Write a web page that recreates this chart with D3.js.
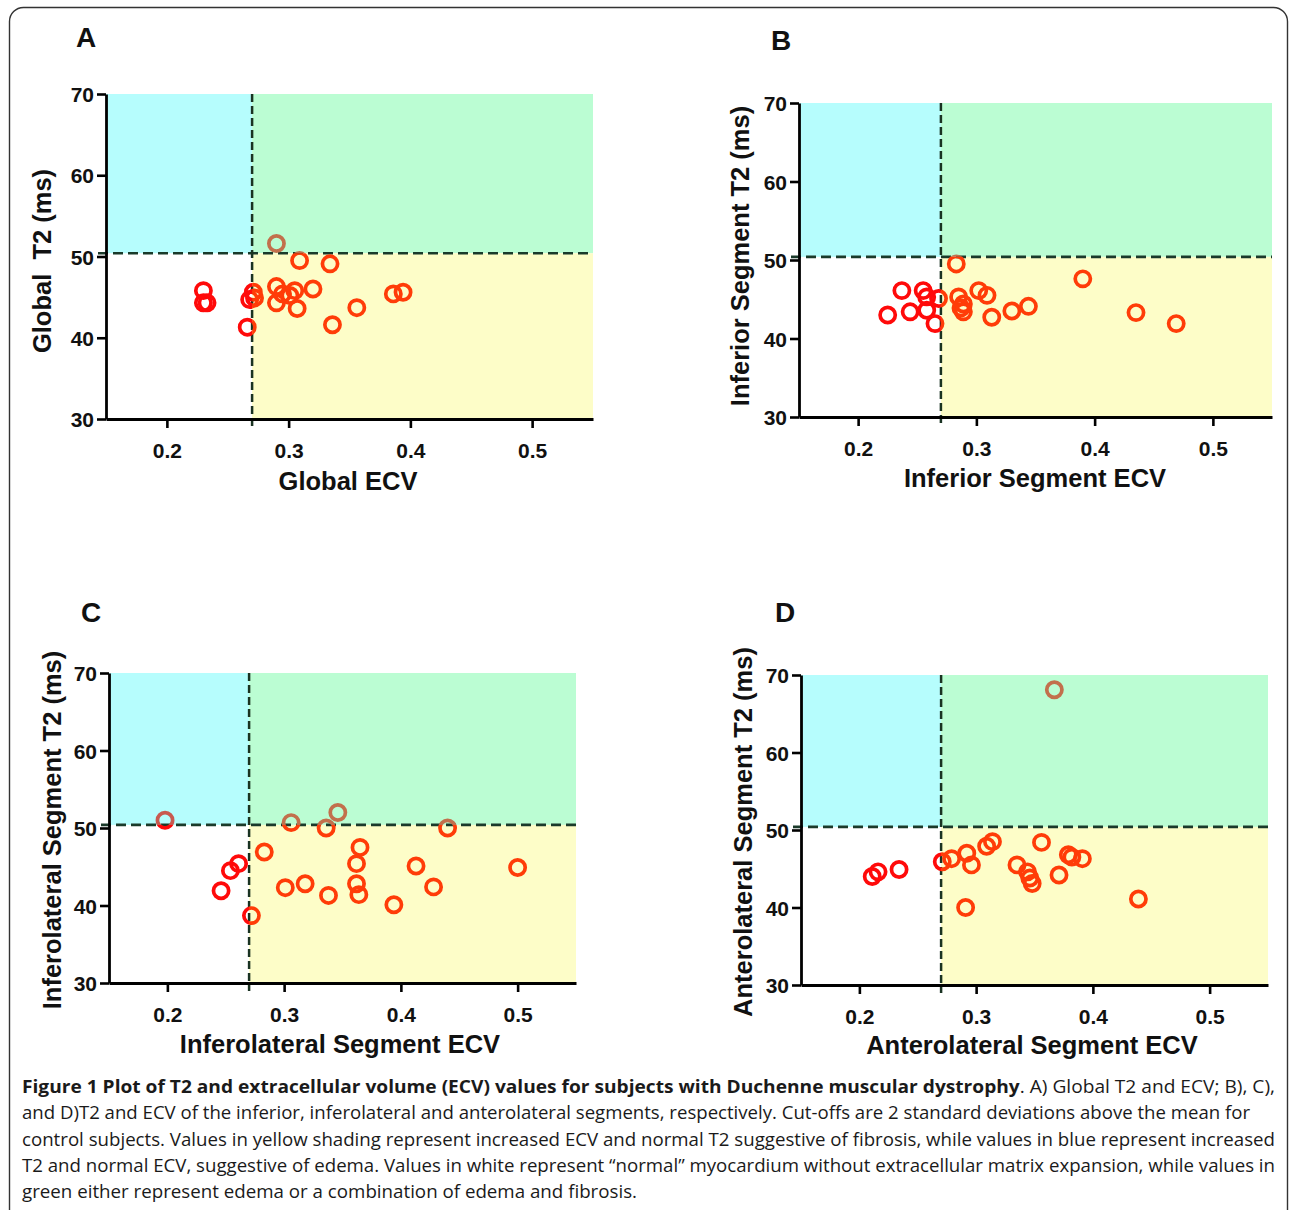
<!DOCTYPE html>
<html>
<head>
<meta charset="utf-8">
<script src="https://cdn.jsdelivr.net/npm/d3@7"></script>
<style>
  body { margin: 0; background: #fff; }
  svg { display: block; }
</style>
</head>
<body>
<svg id="fig" width="1290" height="1210"></svg>
<script>
// values
const globalEcv = [0.230, 0.230, 0.233, 0.266, 0.268, 0.271, 0.272, 0.290, 0.309, 0.334, 0.290, 0.290, 0.295, 0.301, 0.305, 0.307, 0.320, 0.356, 0.336, 0.386, 0.394];
const globalT2 = [45.8, 44.3, 44.3, 41.3, 44.7, 45.6, 44.9, 51.6, 49.5, 49.1, 46.3, 44.3, 45.4, 45.2, 45.8, 43.6, 46.0, 43.7, 41.6, 45.4, 45.6];

const inferiorEcv = [0.225, 0.237, 0.244, 0.255, 0.258, 0.258, 0.265, 0.268, 0.283, 0.285, 0.289, 0.289, 0.287, 0.302, 0.309, 0.313, 0.330, 0.344, 0.390, 0.435, 0.469];
const inferiorT2 = [43.0, 46.1, 43.4, 46.1, 45.3, 43.6, 41.9, 45.1, 49.5, 45.3, 44.4, 43.4, 43.9, 46.1, 45.5, 42.7, 43.5, 44.1, 47.6, 43.3, 41.9];

const inferolateralEcv = [0.198, 0.246, 0.254, 0.261, 0.272, 0.283, 0.301, 0.306, 0.318, 0.336, 0.346, 0.338, 0.365, 0.362, 0.362, 0.364, 0.394, 0.413, 0.428, 0.440, 0.500];
const inferolateralT2 = [51.0, 41.9, 44.5, 45.4, 38.7, 46.9, 42.3, 50.7, 42.8, 50.0, 52.0, 41.3, 47.5, 45.4, 42.8, 41.4, 40.1, 45.1, 42.4, 50.0, 44.9];

const anterolateralEcv = [0.211, 0.216, 0.234, 0.271, 0.279, 0.292, 0.296, 0.291, 0.309, 0.314, 0.356, 0.335, 0.344, 0.346, 0.348, 0.371, 0.379, 0.391, 0.439, 0.367, 0.382];
const anterolateralT2 = [44.0, 44.6, 44.9, 45.9, 46.3, 47.0, 45.5, 40.0, 47.9, 48.5, 48.4, 45.5, 44.6, 43.8, 43.1, 44.2, 46.8, 46.3, 41.1, 68.1, 46.5];

const xTicks = [0.2, 0.3, 0.4, 0.5];
const yTicks = [30, 40, 50, 60, 70];
const ecvCutoff = 0.27;
const t2Cutoff = 50.4;

const captionLines = [
  [{ t: "Figure 1 Plot of T2 and extracellular volume (ECV) values for subjects with Duchenne muscular dystrophy", b: true },
   { t: ". A) Global T2 and ECV; B), C),", b: false }],
  [{ t: "and D)T2 and ECV of the inferior, inferolateral and anterolateral segments, respectively. Cut-offs are 2 standard deviations above the mean for", b: false }],
  [{ t: "control subjects. Values in yellow shading represent increased ECV and normal T2 suggestive of fibrosis, while values in blue represent increased", b: false }],
  [{ t: "T2 and normal ECV, suggestive of edema. Values in white represent \u201cnormal\u201d myocardium without extracellular matrix expansion, while values in", b: false }],
  [{ t: "green either represent edema or a combination of edema and fibrosis.", b: false }]
];

const panels = [
  { id: "A", ecv: globalEcv, t2: globalT2, xLabel: "Global ECV", yLabel: "Global  T2 (ms)",
    x0: 106, x1: 593, yTop: 94, yBot: 419, letter: [86, 47], xt: [348, 490], yt: [51, 261] },
  { id: "B", ecv: inferiorEcv, t2: inferiorT2, xLabel: "Inferior Segment ECV", yLabel: "Inferior Segment T2 (ms)",
    x0: 799, x1: 1272, yTop: 103, yBot: 417, letter: [781, 50], xt: [1035, 487], yt: [749, 256] },
  { id: "C", ecv: inferolateralEcv, t2: inferolateralT2, xLabel: "Inferolateral Segment ECV", yLabel: "Inferolateral Segment T2 (ms)",
    x0: 109, x1: 576, yTop: 673, yBot: 983, letter: [91, 622], xt: [340, 1053], yt: [61, 830] },
  { id: "D", ecv: anterolateralEcv, t2: anterolateralT2, xLabel: "Anterolateral Segment ECV", yLabel: "Anterolateral Segment T2 (ms)",
    x0: 801, x1: 1268, yTop: 675, yBot: 985, letter: [785, 622], xt: [1032, 1054], yt: [752, 832] }
];

const svg = d3.select("#fig");
const defs = svg.append("defs");
const font = "'Liberation Sans', Arial, sans-serif";

// frame
svg.append("rect")
  .attr("x", 9.5).attr("y", 7.5)
  .attr("width", 1278).attr("height", 1240)
  .attr("rx", 14)
  .attr("fill", "none")
  .attr("stroke", "#333")
  .attr("stroke-width", 1.4);

panels.forEach((p) => {
  const x = d3.scaleLinear().domain([0.15, 0.55]).range([p.x0, p.x1]);
  const y = d3.scaleLinear().domain([30, 70]).range([p.yBot, p.yTop]);
  const g = svg.append("g");

  const cx = x(ecvCutoff), cy = y(t2Cutoff);
  const quads = [
    { key: "white", fill: "#ffffff", mark: "#ff0a0a", x: p.x0, y: cy, w: cx - p.x0, h: p.yBot - cy, cl: [0, cy, cx, 1210] },
    { key: "cyan", fill: "#b6fdfd", mark: "#c85a50", x: p.x0, y: p.yTop, w: cx - p.x0, h: cy - p.yTop, cl: [0, 0, cx, cy] },
    { key: "green", fill: "#bbfdd3", mark: "#c2704c", x: cx, y: p.yTop, w: p.x1 - cx, h: cy - p.yTop, cl: [cx, 0, 1290, cy] },
    { key: "yellow", fill: "#fdfdc8", mark: "#ff3c08", x: cx, y: cy, w: p.x1 - cx, h: p.yBot - cy, cl: [cx, cy, 1290, 1210] }
  ];

  g.selectAll("rect.quad")
    .data(quads)
    .enter()
    .append("rect")
    .attr("class", "quad")
    .attr("x", (d) => d.x).attr("y", (d) => d.y)
    .attr("width", (d) => d.w).attr("height", (d) => d.h)
    .attr("fill", (d) => d.fill);

  // cut-off lines
  g.append("line")
    .attr("x1", p.x0 - 8).attr("x2", p.x1)
    .attr("y1", cy).attr("y2", cy)
    .attr("stroke", "#1a3a2a").attr("stroke-width", 2.6)
    .attr("stroke-dasharray", "10,5");
  g.append("line")
    .attr("x1", cx).attr("x2", cx)
    .attr("y1", p.yTop).attr("y2", p.yBot + 8)
    .attr("stroke", "#1a3322").attr("stroke-width", 2.5)
    .attr("stroke-dasharray", "8,4");

  // axes
  const xAxis = g.append("g")
    .attr("transform", `translate(0,${p.yBot})`)
    .call(d3.axisBottom(x).tickValues(xTicks).tickFormat(d3.format(".1f")).tickSize(9).tickSizeOuter(0));
  const yAxis = g.append("g")
    .attr("transform", `translate(${p.x0},0)`)
    .call(d3.axisLeft(y).tickValues(yTicks).tickSize(9).tickSizeOuter(0));
  [xAxis, yAxis].forEach((a) => {
    a.select(".domain").attr("stroke", "#000").attr("stroke-width", 2.8);
    a.selectAll(".tick line").attr("stroke", "#000").attr("stroke-width", 2.6);
    a.selectAll(".tick text")
      .attr("font-family", font).attr("font-weight", "bold")
      .attr("font-size", 21).attr("fill", "#111");
  });
  xAxis.selectAll(".tick text").attr("dy", "1.3em");
  yAxis.selectAll(".tick text").attr("x", -12).attr("dy", "0.36em");

  // markers, one pass per shaded quadrant so the colour follows the background
  const pts = p.ecv.map((v, i) => ({ ecv: v, t2: p.t2[i] }));
  quads.forEach((q) => {
    const clipId = `clip-${p.id}-${q.key}`;
    defs.append("clipPath").attr("id", clipId)
      .append("rect")
      .attr("x", q.cl[0]).attr("y", q.cl[1])
      .attr("width", q.cl[2] - q.cl[0]).attr("height", q.cl[3] - q.cl[1]);
    g.append("g")
      .attr("clip-path", `url(#${clipId})`)
      .selectAll("circle")
      .data(pts)
      .enter()
      .append("circle")
      .attr("cx", (d) => x(d.ecv))
      .attr("cy", (d) => y(d.t2))
      .attr("r", 7.6)
      .attr("fill", "none")
      .attr("stroke", q.mark)
      .attr("stroke-width", 3.7);
  });

  // titles
  g.append("text")
    .attr("x", p.xt[0]).attr("y", p.xt[1])
    .attr("text-anchor", "middle")
    .attr("font-family", font).attr("font-weight", "bold").attr("font-size", 25.5)
    .attr("fill", "#111")
    .text(p.xLabel);
  g.append("text")
    .attr("transform", `translate(${p.yt[0]},${p.yt[1]}) rotate(-90)`)
    .attr("text-anchor", "middle")
    .attr("font-family", font).attr("font-weight", "bold").attr("font-size", 25.5)
    .attr("fill", "#111")
    .style("white-space", "pre")
    .text(p.yLabel);
  g.append("text")
    .attr("x", p.letter[0]).attr("y", p.letter[1])
    .attr("text-anchor", "middle")
    .attr("font-family", font).attr("font-weight", "bold").attr("font-size", 28)
    .attr("fill", "#111")
    .text(p.id);
});

// caption
const capRight = [1275, 1250, 1275, 1275, 637];
const capY = [1093, 1119, 1146, 1172, 1198];
captionLines.forEach((line, i) => {
  const t = svg.append("text")
    .attr("x", 22).attr("y", capY[i])
    .attr("font-family", "'Open Sans', sans-serif")
    .attr("font-size", 18.5)
    .attr("fill", "#1a1a1a")
    .attr("textLength", capRight[i] - 22)
    .attr("lengthAdjust", "spacingAndGlyphs");
  line.forEach((seg) => {
    t.append("tspan")
      .attr("font-weight", seg.b ? "bold" : "normal")
      .text(seg.t);
  });
});
</script>
</body>
</html>
